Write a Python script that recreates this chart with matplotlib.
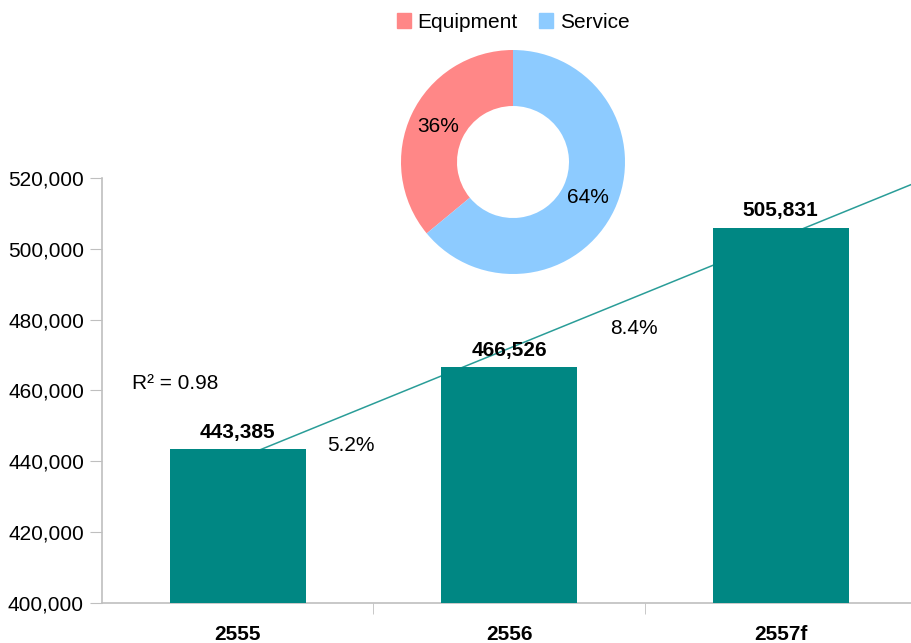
import numpy as np
import matplotlib.pyplot as plt
from matplotlib.patches import Patch

plt.rcParams['font.family'] = ['Liberation Sans', 'DejaVu Sans']

# data
years = ["2555", "2556", "2557f"]
values = [443385, 466526, 505831]
growth_labels = ["5.2%", "8.4%"]
share_names = ["Equipment", "Service"]
share_values = [36, 64]

bar_color = "#008783"
pie_colors = ["#FF8787", "#8DCBFF"]
grey = "#BFBFBF"

fig = plt.figure(figsize=(9.11, 6.43), dpi=100)
ax = fig.add_axes([0.112, 0.0622, 0.888, 0.661])

x = np.arange(len(years))
ax.bar(x, values, width=0.5, color=bar_color, zorder=3)

# linear trend line, drawn behind bars
slope, intercept = np.polyfit(x, values, 1)
fit = slope * x + intercept
r2 = 1 - np.sum((np.array(values) - fit) ** 2) / np.sum((np.array(values) - np.mean(values)) ** 2)
xt = np.array([0, 2.6])
ax.plot(xt, slope * xt + intercept, color="#2A9D98", lw=1.1, zorder=2)

for xi, v in zip(x, values):
    ax.text(xi, v + 2200, f"{v:,}", ha="center", va="bottom", fontsize=15, fontweight="bold")

ax.text(-0.39, 462000, f"R² = {r2:.2f}", fontsize=15, va="center")
ax.text(0.33, 444500, growth_labels[0], fontsize=15, va="center")
ax.text(1.37, 477500, growth_labels[1], fontsize=15, va="center")

ax.set_xlim(-0.5, 2.48)
ax.set_ylim(400000, 520000)
ax.set_yticks(np.arange(400000, 520001, 20000))
ax.yaxis.set_major_formatter(plt.FuncFormatter(lambda v, p: f"{int(v):,}"))
ax.set_xticks(x)
ax.set_xticklabels(years, fontweight="bold")
ax.set_xticks([0.5, 1.5], minor=True)
ax.tick_params(axis="x", which="major", length=0, labelsize=15, pad=16)
ax.tick_params(axis="x", which="minor", length=8, color=grey)
ax.tick_params(axis="y", length=9, color=grey, labelsize=15, pad=4)
for s in ["top", "right"]:
    ax.spines[s].set_visible(False)
for s in ["left", "bottom"]:
    ax.spines[s].set_color(grey)
    ax.spines[s].set_linewidth(1.2)

# donut inset
pax = fig.add_axes([(513 - 112) / 911, (643 - 162 - 112) / 643, 224 / 911, 224 / 643])
pax.pie(share_values, colors=pie_colors, startangle=90, counterclock=True,
        wedgeprops=dict(width=0.5), radius=1,
        autopct=lambda p: f"{p:.0f}%", pctdistance=0.74,
        textprops=dict(fontsize=15))
pax.set_xlim(-1, 1)
pax.set_ylim(-1, 1)
pax.set_aspect("equal")

handles = [Patch(color=c, label=n) for c, n in zip(pie_colors, share_names)]
fig.legend(handles=handles, loc="center", bbox_to_anchor=(513 / 911, 1 - 22 / 643), ncol=2,
           frameon=False, fontsize=15, handlelength=0.7, handleheight=0.7,
           handletextpad=0.3, columnspacing=1.0)

fig.savefig("out.png", dpi=100)
